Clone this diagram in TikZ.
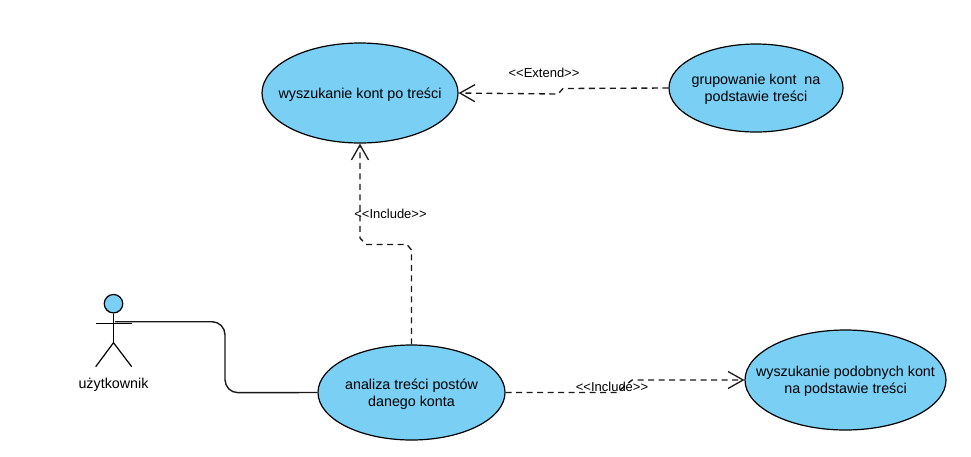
\documentclass[tikz,border=0pt]{standalone}
\usepackage{fontspec}
\setmainfont{Liberation Sans}
\usetikzlibrary{shapes.geometric,arrows.meta}
\definecolor{ucfill}{HTML}{7ACFF5}
\tikzset{
  usecase/.style={ellipse,draw=black,fill=ucfill,line width=1.2pt,inner sep=0pt},
  casetext/.style={align=center,inner sep=0pt,yshift=-1.5pt,font=\fontsize{14.3}{17}\selectfont},
  dep/.style={dash pattern=on 6pt off 4.5pt,line width=1.35pt,draw=black!90,-{Straight Barb[length=15pt,width=17pt,line width=1.3pt]}},
  lbl/.style={font=\fontsize{13}{15}\selectfont,inner sep=0pt},
  stick/.style={line width=1.2pt,draw=black},
  assoc/.style={line width=1.4pt,draw=black!90,rounded corners=13pt}
}
\begin{document}
\begin{tikzpicture}[x=1pt,y=-1pt]
\useasboundingbox (0,0) rectangle (971,456);
\node[usecase,minimum width=196pt,minimum height=100pt,label={[casetext]center:wyszukanie kont po treści}] (e1) at (360,93) {};
\node[usecase,minimum width=174pt,minimum height=88pt,label={[casetext]center:grupowanie kont\ \ na\\podstawie treści}] (e2) at (756,88) {};
\node[usecase,minimum width=187pt,minimum height=95pt,label={[casetext]center:analiza treści postów\\danego konta}] (e3) at (411.5,392.5) {};
\node[usecase,minimum width=201pt,minimum height=100pt,label={[casetext]center:wyszukanie podobnych kont\\na podstawie treści}] (e4) at (845.5,380) {};
% actor
\node[circle,draw=black,fill=ucfill,line width=1.2pt,minimum size=18.5pt,inner sep=0pt] (head) at (113.5,303.7) {};
\coordinate (hip) at (113.5,342.7);
\coordinate (armL) at (95.7,323.3);
\coordinate (armR) at (131.7,323.3);
\coordinate (legL) at (95.7,366.7);
\coordinate (legR) at (131.7,366.7);
\coordinate (hand) at (115,321.7);
\draw[stick] (head.south) -- (hip);
\draw[stick] (armL) -- (armR);
\draw[stick] (legL) -- (hip) -- (legR);
\node[casetext] (actorname) at (113.5,383) {użytkownik};
% association
\draw[assoc] (hand) -- (225,321.7) -- (225,392.7) -- (e3.west);
% extend
\coordinate (x1) at (563,88.5);
\coordinate (x2) at (558,94);
\draw[dep] (e2.west) -- (x1) -- (x2) -- (e1.east);
\node[lbl] (lx) at (544,72.5) {<{}<Extend>{}>};
% include up
\coordinate (i1) at (411.5,250);
\coordinate (i2) at (407,244.5);
\coordinate (i3) at (366,244.5);
\coordinate (i4) at (360,238);
\draw[dep] (e3.north) -- (i1) -- (i2) -- (i3) -- (i4) -- (e1.south);
\node[lbl] (li) at (390.5,213.5) {<{}<Include>{}>};
% include right
\coordinate (j1) at (617,392.5);
\coordinate (j2) at (632,380);
\draw[dep] (e3.east) -- (j1) -- (j2) -- (e4.west);
\node[lbl] (lj) at (612,386.5) {<{}<Include>{}>};
\end{tikzpicture}
\end{document}
